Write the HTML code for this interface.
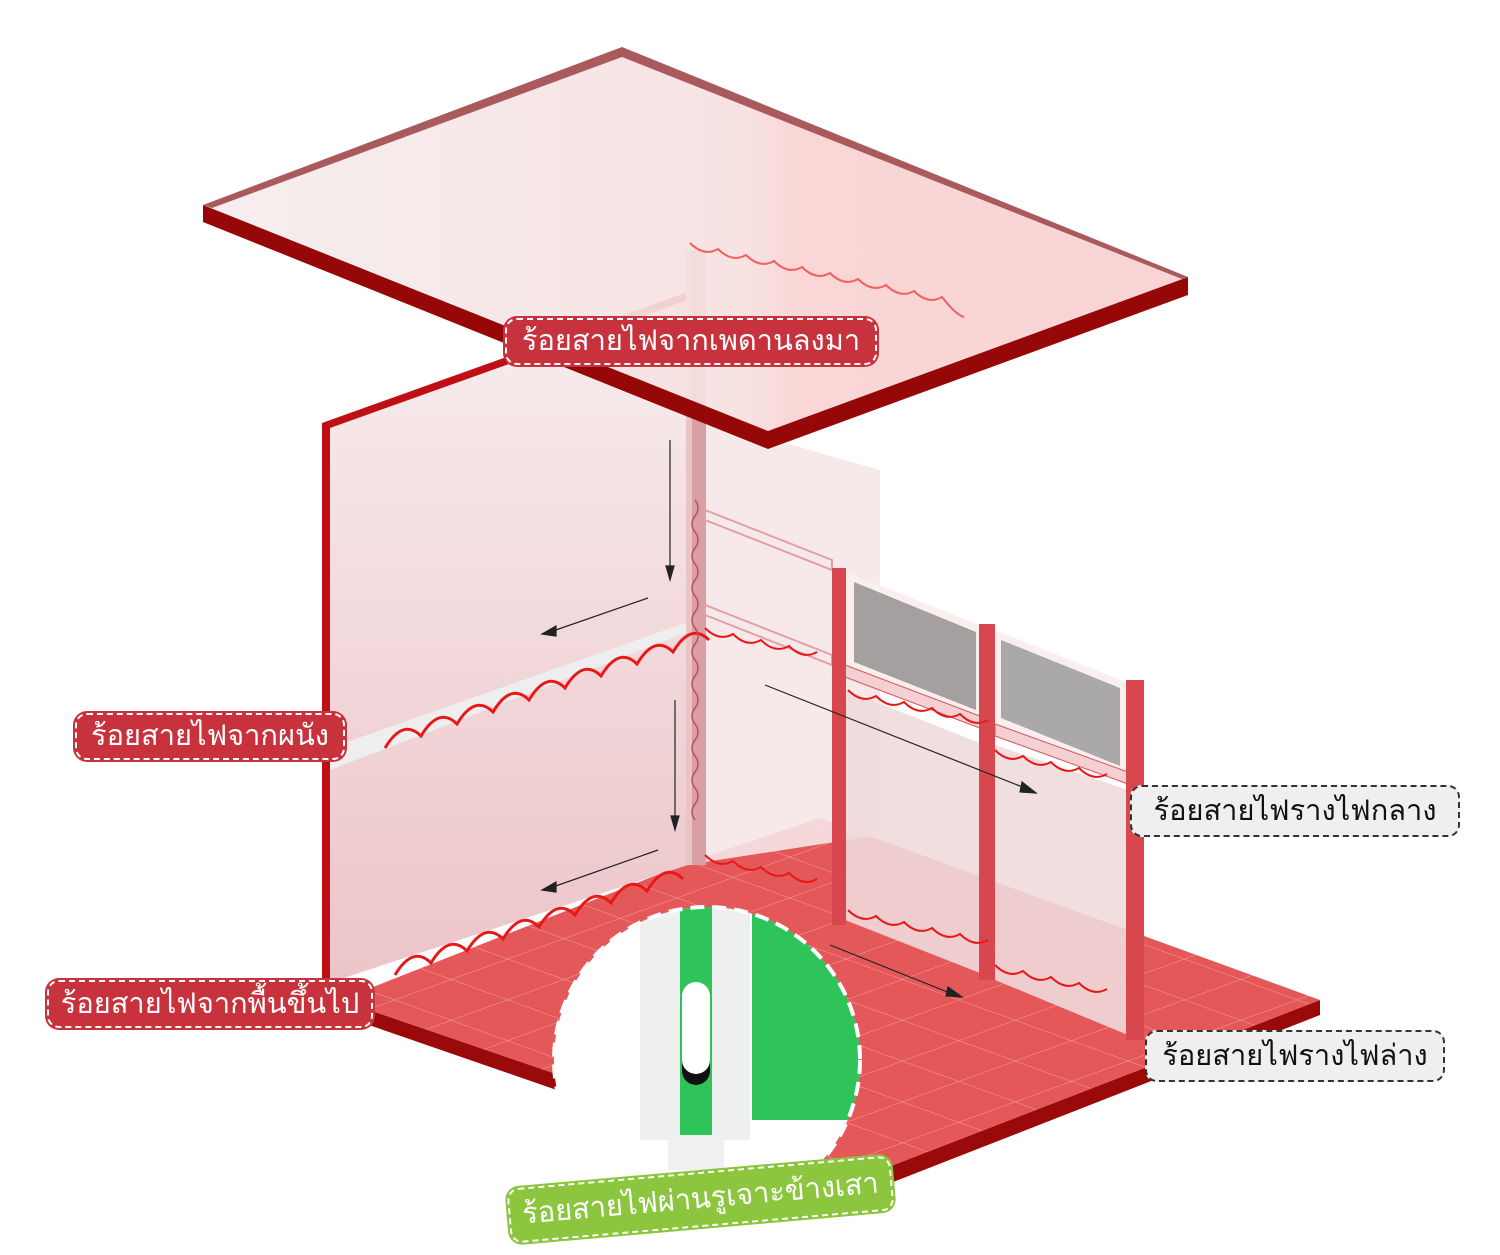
<!DOCTYPE html>
<html><head><meta charset="utf-8">
<style>
html,body{margin:0;padding:0;background:#fff;}
body{width:1500px;height:1255px;position:relative;overflow:hidden;font-family:"Liberation Sans","Noto Sans CJK SC",sans-serif;}
.lb{position:absolute;border-radius:12px;font-size:29px;line-height:1;display:flex;align-items:center;justify-content:center;box-sizing:border-box;white-space:nowrap;}
.r{background:#c8323c;color:#fff;border:2px dashed #fff;box-shadow:0 0 0 2px #c8323c;}
.g{background:#efefef;color:#111;border:2px dashed #333;}
.gr{background:#8cc63f;color:#fff;border:2px dashed #fff;box-shadow:0 0 0 2px #8cc63f;}
</style></head><body>
<svg width="1500" height="1255" viewBox="0 0 1500 1255" style="position:absolute;left:0;top:0">
<defs>
<linearGradient id="wl2" x1="0" y1="0" x2="0" y2="1"><stop offset="0" stop-color="#f8eeef"/><stop offset="1" stop-color="#ecc4c8"/></linearGradient>
<linearGradient id="ce" x1="0" y1="0" x2="1" y2="0"><stop offset="0" stop-color="#f5eded"/><stop offset="0.55" stop-color="#f7e0e0"/><stop offset="0.6" stop-color="#f9d3d3"/><stop offset="1" stop-color="#f8d0d0"/></linearGradient>
<pattern id="tile" width="60" height="60" patternUnits="userSpaceOnUse" patternTransform="matrix(0.94,0.34,-0.94,0.34,0,0)">
<rect width="60" height="60" fill="#e5585a"/><path d="M0 0H60M0 0V60" stroke="#f4a0a0" stroke-width="1.5"/></pattern>
<clipPath id="circ"><circle cx="707" cy="1060" r="153"/></clipPath>
</defs>
<polygon points="340,1000 340,1015 860,1195 1320,1015 1320,1000 860,1178" fill="#9b0a0a"/>
<polygon points="340,1000 690,862 820,818 1320,1000 860,1178" fill="url(#tile)"/>
<polygon points="322,423 688,292 688,865 322,985" fill="url(#wl2)"/>
<polygon points="322,423 688,292 688,300 330,428 330,985 322,988" fill="#c00f14"/>
<polygon points="705,420 880,470 880,835 705,862" fill="#f6e6e8" opacity="0.9"/>
<polygon points="330,748 688,622 688,632 330,770" fill="#eee" />
<rect x="686" y="250" width="20" height="615" fill="#d9a0a4"/>
<rect x="686" y="250" width="6" height="615" fill="#e9c4c6"/>
<polygon points="203,205 622,47 1188,277 768,431" fill="url(#ce)" opacity="0.92"/>
<polygon points="203,205 768,431 1188,277 1188,295 768,449 203,222" fill="#960808"/>
<polygon points="203,205 622,47 1188,277 1182,279 622,57 212,208" fill="#a85a5c"/>
<polygon points="705,510 832,560 832,570 705,520" fill="none" stroke="#e2a0a4" stroke-width="2"/>
<polygon points="705,605 832,655 832,665 705,615" fill="none" stroke="#e2a0a4" stroke-width="2"/>
<polygon points="845,690 985,745 985,975 845,920" fill="#f0dadc" opacity="0.9"/>
<polygon points="995,745 1128,790 1128,1035 995,980" fill="#f0dadc" opacity="0.9"/>
<polygon points="846,572 982,626 982,718 846,664" fill="#fbeeee"/>
<polygon points="994,630 1126,682 1126,776 994,724" fill="#fbeeee"/>
<polygon points="854,582 976,632 976,710 854,662" fill="#a5a0a0"/>
<polygon points="1001,640 1120,688 1120,766 1001,718" fill="#aaa8a8"/>
<polygon points="845,665 985,718 985,730 845,677" fill="#f4d0d2" stroke="#d05a60"/>
<polygon points="995,724 1128,772 1128,784 995,736" fill="#f4d0d2" stroke="#d05a60"/>
<rect x="832" y="568" width="14" height="357" fill="#d8474e"/>
<rect x="979" y="624" width="16" height="356" fill="#d8474e"/>
<rect x="1126" y="680" width="18" height="360" fill="#d8474e"/>
<g fill="none" stroke="#e81818" stroke-width="3">
<path d="M385,748 q18,-30 36,-12 q18,-30 36,-12 q18,-30 36,-12 q18,-30 36,-12 q18,-30 36,-12 q18,-30 36,-12 q18,-30 36,-12 q18,-30 36,-12 q18,-30 36,-12"/>
<path d="M395,975 q18,-30 36,-12 q18,-30 36,-12 q18,-30 36,-12 q18,-30 36,-12 q18,-30 36,-12 q18,-30 36,-12 q18,-30 36,-12 q18,-30 36,-12"/>
<path d="M705,628 q14,14 28,6 q14,14 28,6 q14,14 28,6 q14,14 28,6" stroke-width="2"/>
<path d="M705,855 q14,14 28,6 q14,14 28,6 q14,14 28,6 q14,14 28,6" stroke-width="2"/>
<path d="M848,690 q14,14 28,6 q14,14 28,6 q14,14 28,6 q14,14 28,6 q14,14 28,6" stroke-width="2"/>
<path d="M995,750 q14,14 28,6 q14,14 28,6 q14,14 28,6 q14,14 28,6" stroke-width="2"/>
<path d="M848,910 q14,14 28,6 q14,14 28,6 q14,14 28,6 q14,14 28,6 q14,14 28,6" stroke-width="2"/>
<path d="M995,965 q14,14 28,6 q14,14 28,6 q14,14 28,6 q14,14 28,6" stroke-width="2"/>
<path d="M690,243 q14,14 28,6 q14,14 28,6 q14,14 28,6 q14,14 28,6 q14,14 28,6 q14,14 28,6 q14,14 28,6 q14,14 28,6 q14,14 28,6 q14,18 22,20" stroke="#f06060" stroke-width="2"/>
<path d="M695,500 q6,8 0,16 q-6,8 0,16 q6,8 0,16 q-6,8 0,16 q6,8 0,16 q-6,8 0,16 q6,8 0,16 q-6,8 0,16 q6,8 0,16 q-6,8 0,16 q6,8 0,16 q-6,8 0,16 q6,8 0,16 q-6,8 0,16 q6,8 0,16 q-6,8 0,16 q6,8 0,16 q-6,8 0,16 q6,8 0,16 q-6,8 0,16" stroke="#c05058" stroke-width="1.5"/>
</g>
<g stroke="#222" stroke-width="1.2" fill="#222">
<line x1="670" y1="440" x2="670" y2="570"/><polygon points="666,566 674,566 670,580"/>
<line x1="648" y1="598" x2="550" y2="632"/><polygon points="542,634 556,626 556,636"/>
<line x1="675" y1="700" x2="675" y2="820"/><polygon points="671,816 679,816 675,830"/>
<line x1="658" y1="850" x2="550" y2="888"/><polygon points="542,890 556,882 556,892"/>
<line x1="765" y1="685" x2="1030" y2="790"/><polygon points="1036,793 1022,782 1020,792"/>
<line x1="830" y1="945" x2="955" y2="995"/><polygon points="962,997 948,987 946,996"/>
</g>
<circle cx="707" cy="1060" r="153" fill="#fff"/>
<g clip-path="url(#circ)">
<rect x="640" y="900" width="110" height="240" fill="#eef0ef"/>
<rect x="680" y="900" width="32" height="235" fill="#2ec45a"/>
<rect x="752" y="900" width="120" height="220" fill="#2ec45a"/>
<rect x="668" y="1135" width="56" height="35" fill="#f0f0f0"/>
<rect x="682" y="985" width="28" height="100" rx="14" fill="#111"/>
<rect x="682" y="982" width="28" height="92" rx="14" fill="#fff"/>
</g>
<circle cx="707" cy="1060" r="153" fill="none" stroke="#fff" stroke-width="4" stroke-dasharray="14 8"/>
</svg>
<div class="lb r" style="left:505px;top:318px;width:372px;height:47px;">ร้อยสายไฟจากเพดานลงมา</div>
<div class="lb r" style="left:75px;top:713px;width:270px;height:47px;">ร้อยสายไฟจากผนัง</div>
<div class="lb r" style="left:47px;top:980px;width:326px;height:48px;">ร้อยสายไฟจากพื้นขึ้นไป</div>
<div class="lb g" style="left:1130px;top:785px;width:330px;height:52px;">ร้อยสายไฟรางไฟกลาง</div>
<div class="lb g" style="left:1145px;top:1030px;width:300px;height:52px;">ร้อยสายไฟรางไฟล่าง</div>
<div class="lb gr" style="left:508px;top:1172px;width:385px;height:55px;transform:rotate(-5deg);">ร้อยสายไฟผ่านรูเจาะข้างเสา</div>
</body></html>
